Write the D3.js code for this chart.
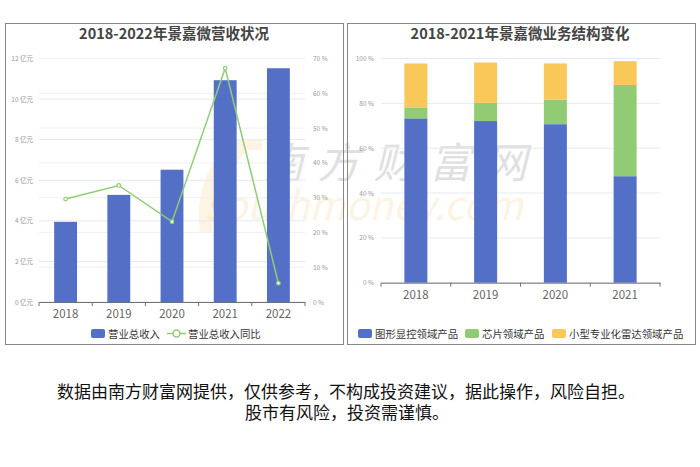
<!DOCTYPE html>
<html>
<head>
<meta charset="utf-8">
<script src="https://cdn.jsdelivr.net/npm/d3@7/dist/d3.min.js"></script>
<style>
  body { margin: 0; background: #fff; }
  text { font-family: "Noto Sans CJK SC", "Noto Sans", sans-serif; }
</style>
</head>
<body>
<div id="chart"></div>
<script>
// data
const years1 = ["2018", "2019", "2020", "2021", "2022"];
const revenue = [3.95, 5.28, 6.52, 10.93, 11.52];       // 亿元
const revenueYoY = [29.6, 33.5, 23.1, 67.2, 5.4];        // %
const revTicks = [0, 2, 4, 6, 8, 10, 12];
const yoyTicks = [0, 10, 20, 30, 40, 50, 60, 70];

const years2 = ["2018", "2019", "2020", "2021"];
const segNames = ["图形显控领域产品", "芯片领域产品", "小型专业化雷达领域产品"];
const segGraphic = [73.3, 72.1, 70.7, 47.5];
const segChip = [4.9, 8.1, 11.0, 40.7];
const segRadar = [19.6, 18.0, 16.1, 10.6];
const pctTicks = [0, 20, 40, 60, 80, 100];

const blue = "#5470c6", green = "#91cc75", yellow = "#fac858";

const svg = d3.select("#chart").append("svg")
  .attr("width", 700).attr("height", 467);

// watermark, sits behind the marks
const wm = svg.append("g");
wm.append("path")
  .attr("d", "M232,140 C205,165 195,200 200,232 L212,232 C212,205 222,175 248,150 L262,150 L262,140 Z")
  .attr("fill", "#f9a825").attr("opacity", 0.12);
wm.append("text").attr("x", 262).attr("y", 178)
  .attr("font-size", 42).attr("fill", "#bbb").attr("opacity", 0.45)
  .attr("font-style", "italic").attr("textLength", 265).attr("lengthAdjust", "spacing")
  .text("南方财富网");
wm.append("text").attr("x", 205).attr("y", 220)
  .attr("font-size", 40).attr("fill", "#f5a623").attr("opacity", 0.12)
  .attr("font-style", "italic").attr("font-family", "DejaVu Serif")
  .attr("textLength", 318).attr("lengthAdjust", "spacingAndGlyphs")
  .text("southmoney.com");

// panel frames
svg.append("rect").attr("x", 5.5).attr("y", 23.5).attr("width", 338).attr("height", 321)
  .attr("fill", "none").attr("stroke", "#888").attr("stroke-width", 1);
svg.append("rect").attr("x", 347.5).attr("y", 23.5).attr("width", 348).attr("height", 321)
  .attr("fill", "none").attr("stroke", "#888").attr("stroke-width", 1);

// titles
svg.append("text").attr("x", 174).attr("y", 39).attr("text-anchor", "middle")
  .attr("font-size", 14.5).attr("font-weight", "bold").attr("fill", "#444")
  .text("2018-2022年景嘉微营收状况");
svg.append("text").attr("x", 520).attr("y", 39).attr("text-anchor", "middle")
  .attr("font-size", 14.5).attr("font-weight", "bold").attr("fill", "#444")
  .text("2018-2021年景嘉微业务结构变化");

// ---------- left chart ----------
const x1 = d3.scaleBand().domain(years1).range([39, 305]).paddingInner(0.57).paddingOuter(0.285);
const band1 = d3.scaleBand().domain(years1).range([39, 305]);
const yL = d3.scaleLinear().domain([0, 12]).range([302, 58.5]);
const yR = d3.scaleLinear().domain([0, 70]).range([302, 58.5]);

const g1 = svg.append("g");
g1.selectAll(".gl").data(revTicks).enter().append("line")
  .attr("x1", 39).attr("x2", 305).attr("y1", d => yL(d)).attr("y2", d => yL(d))
  .attr("stroke", "#e6e9f0").attr("stroke-width", 1);
g1.selectAll(".gr").data(yoyTicks).enter().append("line")
  .attr("x1", 39).attr("x2", 305).attr("y1", d => yR(d)).attr("y2", d => yR(d))
  .attr("stroke", "#eef0f5").attr("stroke-width", 1);

g1.append("g").attr("transform", "translate(36,0)")
  .call(d3.axisLeft(yL).tickValues(revTicks).tickSize(0).tickFormat(d => d + " 亿元"))
  .call(a => a.select(".domain").remove())
  .call(a => a.selectAll("text").attr("fill", "#999").attr("font-size", 6.5));
g1.append("g").attr("transform", "translate(310,0)")
  .call(d3.axisRight(yR).tickValues(yoyTicks).tickSize(0).tickFormat(d => d + " %"))
  .call(a => a.select(".domain").remove())
  .call(a => a.selectAll("text").attr("fill", "#999").attr("font-size", 6.5));

g1.selectAll(".bar").data(years1).enter().append("rect")
  .attr("x", d => x1(d)).attr("width", x1.bandwidth())
  .attr("y", (d, i) => yL(revenue[i])).attr("height", (d, i) => yL(0) - yL(revenue[i]))
  .attr("fill", blue);

g1.append("g").attr("transform", "translate(0,302)")
  .call(d3.axisBottom(band1).tickSize(0).tickPadding(8))
  .call(a => a.select(".domain").attr("stroke", "#6e7079"))
  .call(a => a.selectAll("text").attr("fill", "#666").attr("font-size", 11.5));
g1.selectAll(".xt").data(d3.range(years1.length + 1)).enter().append("line")
  .attr("x1", i => 39 + i * band1.step()).attr("x2", i => 39 + i * band1.step())
  .attr("y1", 302).attr("y2", 306).attr("stroke", "#6e7079");

const line = d3.line()
  .x((d, i) => band1(years1[i]) + band1.bandwidth() / 2)
  .y(d => yR(d));
g1.append("path").datum(revenueYoY).attr("d", line)
  .attr("fill", "none").attr("stroke", green).attr("stroke-width", 1.5);
g1.selectAll(".pt").data(revenueYoY).enter().append("circle")
  .attr("cx", (d, i) => band1(years1[i]) + band1.bandwidth() / 2)
  .attr("cy", d => yR(d)).attr("r", 1.8)
  .attr("fill", "#fff").attr("stroke", green).attr("stroke-width", 1.2);

// left legend
svg.append("rect").attr("x", 91).attr("y", 329).attr("width", 14).attr("height", 9).attr("rx", 2).attr("fill", blue);
svg.append("text").attr("x", 108).attr("y", 338).attr("font-size", 10.4).attr("fill", "#333").text("营业总收入");
svg.append("line").attr("x1", 167).attr("x2", 186).attr("y1", 333.5).attr("y2", 333.5).attr("stroke", green).attr("stroke-width", 1.5);
svg.append("circle").attr("cx", 176.5).attr("cy", 333.5).attr("r", 3.5).attr("fill", "#fff").attr("stroke", green).attr("stroke-width", 1.5);
svg.append("text").attr("x", 188).attr("y", 338).attr("font-size", 10.4).attr("fill", "#333").text("营业总收入同比");

// ---------- right chart ----------
const x2 = d3.scaleBand().domain(years2).range([381, 660]).paddingInner(0.67).paddingOuter(0.335);
const band2 = d3.scaleBand().domain(years2).range([381, 660]);
const y2 = d3.scaleLinear().domain([0, 100]).range([282.7, 58.5]);

const g2 = svg.append("g");
g2.selectAll(".gl").data(pctTicks).enter().append("line")
  .attr("x1", 381).attr("x2", 660).attr("y1", d => y2(d)).attr("y2", d => y2(d))
  .attr("stroke", "#e6e9f0").attr("stroke-width", 1);
g2.append("g").attr("transform", "translate(377,0)")
  .call(d3.axisLeft(y2).tickValues(pctTicks).tickSize(0).tickFormat(d => d + " %"))
  .call(a => a.select(".domain").remove())
  .call(a => a.selectAll("text").attr("fill", "#999").attr("font-size", 6.5));

const table = years2.map((y, i) => ({ year: y, g: segGraphic[i], c: segChip[i], r: segRadar[i] }));
const stack = d3.stack().keys(["g", "c", "r"])(table);
const colors = [blue, green, yellow];
g2.selectAll(".layer").data(stack).enter().append("g")
  .attr("fill", (d, i) => colors[i])
  .selectAll("rect").data(d => d).enter().append("rect")
  .attr("x", d => x2(d.data.year)).attr("width", x2.bandwidth())
  .attr("y", d => y2(d[1])).attr("height", d => y2(d[0]) - y2(d[1]));

g2.append("g").attr("transform", "translate(0,282.7)")
  .call(d3.axisBottom(band2).tickSize(0).tickPadding(8))
  .call(a => a.select(".domain").attr("stroke", "#6e7079"))
  .call(a => a.selectAll("text").attr("fill", "#666").attr("font-size", 11.5));
g2.selectAll(".xt").data(d3.range(years2.length + 1)).enter().append("line")
  .attr("x1", i => 381 + i * band2.step()).attr("x2", i => 381 + i * band2.step())
  .attr("y1", 282.7).attr("y2", 286.7).attr("stroke", "#6e7079");

// right legend
const legX = [358, 465, 552];
segNames.forEach((n, i) => {
  svg.append("rect").attr("x", legX[i]).attr("y", 329).attr("width", 14).attr("height", 9).attr("rx", 2).attr("fill", colors[i]);
  svg.append("text").attr("x", legX[i] + 17).attr("y", 338).attr("font-size", 10.4).attr("fill", "#333").text(n);
});

// disclaimer
svg.append("text").attr("x", 346).attr("y", 398).attr("text-anchor", "middle")
  .attr("font-size", 17).attr("fill", "#111")
  .text("数据由南方财富网提供，仅供参考，不构成投资建议，据此操作，风险自担。");
svg.append("text").attr("x", 347).attr("y", 419).attr("text-anchor", "middle")
  .attr("font-size", 17).attr("fill", "#111")
  .text("股市有风险，投资需谨慎。");
</script>
</body>
</html>
